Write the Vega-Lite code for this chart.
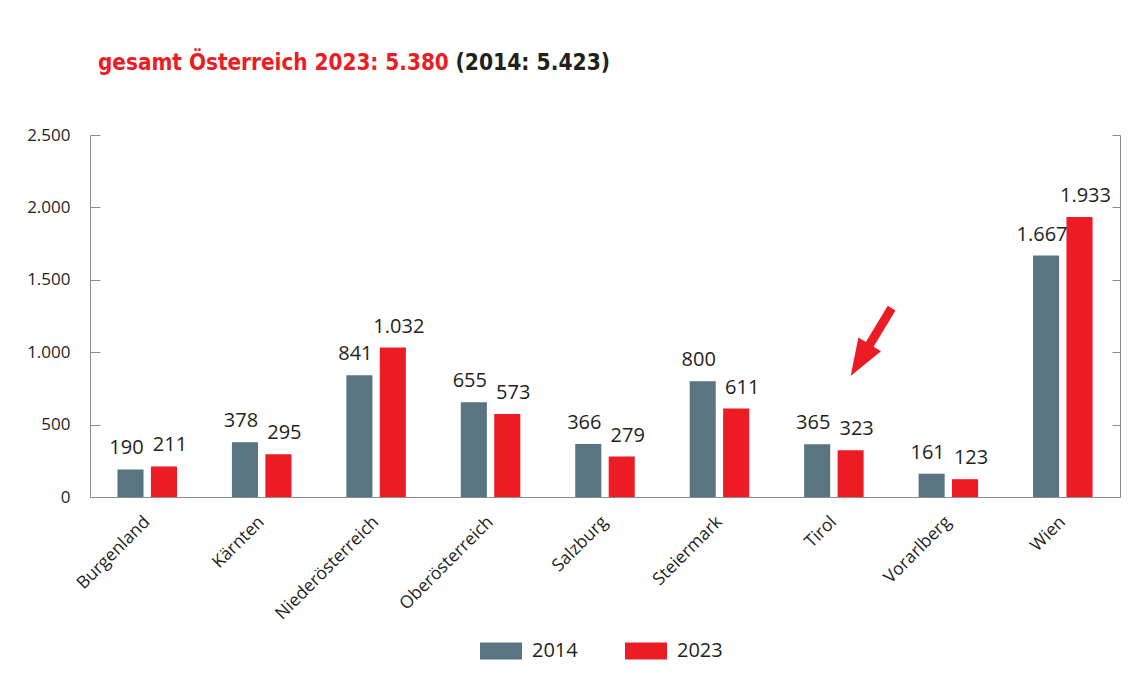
{
  "$schema": "https://vega.github.io/schema/vega-lite/v6.json",
  "width": 1030,
  "height": 362,
  "autosize": {"type": "none"},
  "padding": {"left": 90, "top": 135, "right": 13, "bottom": 192},
  "background": "white",
  "config": {
    "locale": {"number": {"decimal": ",", "thousands": ".", "grouping": [3], "currency": ["", " €"]}},
    "view": {"stroke": null},
    "font": "Open Sans"
  },
  "data": {
    "values": [
      {"land": "Burgenland", "jahr": "2014", "wert": 190},
      {"land": "Burgenland", "jahr": "2023", "wert": 211},
      {"land": "Kärnten", "jahr": "2014", "wert": 378},
      {"land": "Kärnten", "jahr": "2023", "wert": 295},
      {"land": "Niederösterreich", "jahr": "2014", "wert": 841},
      {"land": "Niederösterreich", "jahr": "2023", "wert": 1032},
      {"land": "Oberösterreich", "jahr": "2014", "wert": 655},
      {"land": "Oberösterreich", "jahr": "2023", "wert": 573},
      {"land": "Salzburg", "jahr": "2014", "wert": 366},
      {"land": "Salzburg", "jahr": "2023", "wert": 279},
      {"land": "Steiermark", "jahr": "2014", "wert": 800},
      {"land": "Steiermark", "jahr": "2023", "wert": 611},
      {"land": "Tirol", "jahr": "2014", "wert": 365},
      {"land": "Tirol", "jahr": "2023", "wert": 323},
      {"land": "Vorarlberg", "jahr": "2014", "wert": 161},
      {"land": "Vorarlberg", "jahr": "2023", "wert": 123},
      {"land": "Wien", "jahr": "2014", "wert": 1667},
      {"land": "Wien", "jahr": "2023", "wert": 1933}
    ]
  },
  "resolve": {"axis": {"y": "independent", "x": "independent"}},
  "layer": [
    {
      "mark": {"type": "bar"},
      "encoding": {
        "x": {
          "field": "land", "type": "nominal", "sort": null,
          "scale": {"paddingInner": 0.48, "paddingOuter": 0.24},
          "axis": {
            "title": null, "labelAngle": -45, "labelAlign": "right", "labelBaseline": "middle",
            "ticks": false, "domainColor": "#8c8c8c", "labelFontSize": 17.5, "labelColor": "#231F20",
            "labelPadding": 22
          }
        },
        "xOffset": {"field": "jahr", "type": "nominal", "scale": {"paddingInner": 0.22}},
        "y": {
          "field": "wert", "type": "quantitative",
          "scale": {"domain": [0, 2500], "nice": false},
          "axis": {
            "title": "gesamt Österreich 2023: 5.380",
            "titleAngle": 0, "titleAlign": "left", "titleBaseline": "alphabetic",
            "titleX": 7.5, "titleY": -65.5,
            "titleFont": "DejaVu Sans Condensed", "titleFontSize": 22.3,
            "titleFontWeight": "bold", "titleColor": "#ED1C24",
            "values": [0, 500, 1000, 1500, 2000, 2500], "format": ",.0f",
            "grid": false, "tickSize": -10, "tickColor": "#8c8c8c", "domainColor": "#8c8c8c",
            "labelFontSize": 17, "labelColor": "#231F20", "labelPadding": 30
          }
        },
        "color": {
          "field": "jahr", "type": "nominal",
          "scale": {"domain": ["2014", "2023"], "range": ["#587581", "#ED1C24"]},
          "legend": {
            "title": null, "orient": "none", "direction": "horizontal",
            "legendX": 390, "legendY": 495,
            "symbolType": "M-1,-0.4H1V0.4H-1Z", "symbolSize": 1764, "symbolStrokeWidth": 0,
            "symbolOpacity": 1,
            "labelFontSize": 20, "labelColor": "#231F20", "labelOffset": 10, "columnPadding": 47
          }
        }
      }
    },
    {
      "transform": [{"filter": "datum.jahr == '2014'"}],
      "mark": {"type": "text", "dy": -15, "dx": -4, "baseline": "alphabetic", "fontSize": 20, "color": "#231F20"},
      "encoding": {
        "x": {
          "field": "land", "type": "nominal", "sort": null,
          "axis": {
            "orient": "top", "labels": false, "ticks": false, "domain": false,
            "title": "(2014: 5.423)",
            "titleAlign": "left", "titleAnchor": "start", "titleBaseline": "alphabetic",
            "titleX": 365, "titleY": -65.5,
            "titleFont": "DejaVu Sans Condensed", "titleFontSize": 22.6,
            "titleFontWeight": "bold", "titleColor": "#231F20"
          }
        },
        "xOffset": {"field": "jahr", "type": "nominal", "scale": {"domain": ["2014", "2023"]}},
        "y": {
          "field": "wert", "type": "quantitative",
          "scale": {"domain": [0, 2500], "nice": false},
          "axis": {
            "orient": "right", "title": null, "labels": false, "grid": false,
            "values": [0, 500, 1000, 1500, 2000, 2500],
            "tickSize": -8, "tickColor": "#8c8c8c", "domainColor": "#8c8c8c"
          }
        },
        "text": {"field": "wert", "type": "quantitative", "format": ",.0f"}
      }
    },
    {
      "transform": [{"filter": "datum.jahr == '2023'"}],
      "mark": {"type": "text", "dy": -15, "dx": 6, "baseline": "alphabetic", "fontSize": 20, "color": "#231F20"},
      "encoding": {
        "x": {"field": "land", "type": "nominal", "sort": null, "axis": null},
        "xOffset": {"field": "jahr", "type": "nominal", "scale": {"domain": ["2014", "2023"]}},
        "y": {"field": "wert", "type": "quantitative", "scale": {"domain": [0, 2500], "nice": false}, "axis": null},
        "text": {"field": "wert", "type": "quantitative", "format": ",.0f"}
      }
    },
    {
      "data": {"values": [{"land": "Tirol", "jahr": "2023", "wert": 835}]},
      "mark": {
        "type": "point", "filled": true, "size": 4, "opacity": 1, "strokeWidth": 0, "color": "#ED1C24",
        "shape": "M0,0L7.8,-38.5L15.25,-34L37.15,-70.3L44.85,-65.7L22.95,-29.4L30.4,-24.9Z"
      },
      "encoding": {
        "x": {"field": "land", "type": "nominal", "sort": null, "axis": null},
        "xOffset": {"field": "jahr", "type": "nominal", "scale": {"domain": ["2014", "2023"]}},
        "y": {"field": "wert", "type": "quantitative", "scale": {"domain": [0, 2500], "nice": false}, "axis": null}
      }
    }
  ]
}
